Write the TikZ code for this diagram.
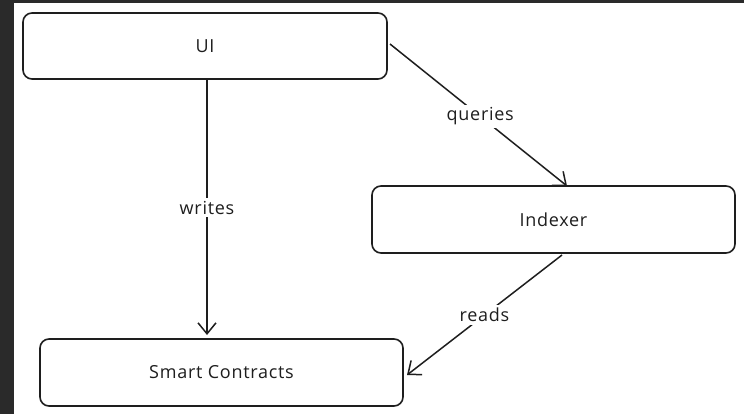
\documentclass[tikz,border=0pt]{standalone}
\usepackage{fontspec}
\setmainfont{Open Sans}[LetterSpace=4]
\usetikzlibrary{arrows.meta}
\definecolor{frame}{HTML}{2A2A2A}
\definecolor{ink}{HTML}{1E1E1E}
\tikzset{
  box/.style={draw=ink, line width=1.6pt, rounded corners=9pt, inner sep=0pt, fill=white},
  conn/.style={draw=ink, line width=1.5pt, -{Straight Barb[length=11pt,width=18pt,line width=1.5pt]}},
  lbl/.style={fill=white, inner sep=3pt, text=ink, font=\fontsize{18}{22}\selectfont},
  txt/.style={text=ink, font=\fontsize{18}{22}\selectfont}
}
\begin{document}
\begin{tikzpicture}[x=1pt,y=-1pt]
\useasboundingbox (0,0) rectangle (744,414);
\fill[white] (0,0) rectangle (744,414);
\fill[frame] (0,0) rectangle (744,3);
\fill[frame] (0,0) rectangle (14,414);
% boxes
\node[box, minimum width=364pt, minimum height=66pt] (ui) at (205,46) {};
\node[txt] at (ui.center) {UI};
\node[box, minimum width=363pt, minimum height=67pt] (idx) at (553.5,219.5) {};
\node[txt] at (idx.center) {Indexer};
\node[box, minimum width=363pt, minimum height=67pt] (sc) at (221.5,372.5) {};
\node[txt] at (sc.center) {Smart Contracts};
% connectors
\coordinate (uiB) at (207,80);
\coordinate (scT) at (207,335);
\draw[conn] (uiB) -- (scT) node[lbl, pos=0.5] {writes};
\coordinate (uiR) at (390,44);
\coordinate (idxT) at (567,186);
\draw[conn] (uiR) -- (idxT) node[lbl, pos=0.51] {queries};
\coordinate (idxB) at (562,255);
\coordinate (scR) at (407,375);
\draw[conn] (idxB) -- (scR) node[lbl, pos=0.5] {reads};
\end{tikzpicture}
\end{document}
